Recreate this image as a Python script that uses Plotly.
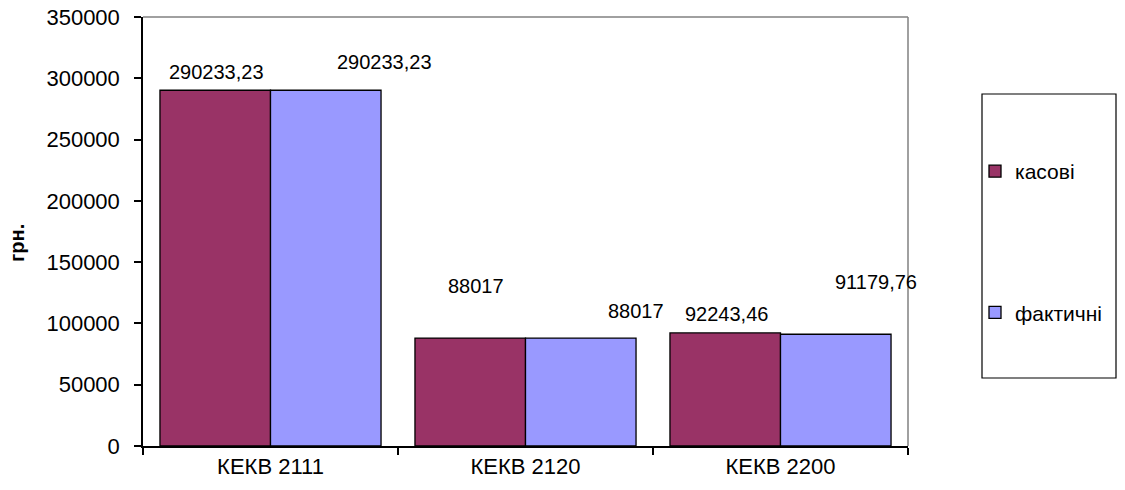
import plotly.graph_objects as go

categories = ["КЕКВ 2111", "КЕКВ 2120", "КЕКВ 2200"]
kasovi = [290233.23, 88017, 92243.46]
faktychni = [290233.23, 88017, 91179.76]
series_names = ["касові", "фактичні"]
y_ticks = [0, 50000, 100000, 150000, 200000, 250000, 300000, 350000]
y_title = "грн."

def fmt(v):
    if float(v).is_integer():
        return str(int(v))
    return f"{v:.2f}".replace(".", ",")

W, H = 1125, 490
L, R, T, B = 143, 908, 17, 446
FONT = "Liberation Sans, Arial, sans-serif"

fig = go.Figure()
fig.add_trace(go.Bar(x=categories, y=kasovi, name=series_names[0], legendgroup="a",
                     marker=dict(color="#993366", line=dict(color="black", width=1.3))))
fig.add_trace(go.Bar(x=categories, y=faktychni, name=series_names[1], legendgroup="b",
                     marker=dict(color="#9999FF", line=dict(color="black", width=1.3))))

# label offsets (px) relative to category centre / bar top
offs_k = [(-54.5, 18), (-50, 52), (-54, 19)]
offs_f = [(113.5, 28), (110, 27), (95, 52)]
ann = []
for i, c in enumerate(categories):
    for vals, offs in ((kasovi, offs_k), (faktychni, offs_f)):
        dx, dy = offs[i]
        ann.append(dict(x=c, y=vals[i], xref="x", yref="y", text=fmt(vals[i]),
                        showarrow=False, xshift=dx, yshift=dy, xanchor="center",
                        yanchor="middle", font=dict(family=FONT, size=20, color="black")))

pw = R - L
ph = B - T
def px(x):
    return (x - L) / pw
def py(y):
    return (B - y) / ph

ann.append(dict(x=px(17), y=py(243), xref="paper", yref="paper", text="<b>" + y_title + "</b>",
                textangle=-90, showarrow=False, xanchor="center", yanchor="middle",
                font=dict(family=FONT, size=20, color="black")))

shapes = [
    dict(type="line", xref="paper", yref="paper", x0=0, x1=1, y0=1, y1=1,
         line=dict(color="#808080", width=1.5)),
    dict(type="line", xref="paper", yref="paper", x0=1, x1=1, y0=0, y1=1,
         line=dict(color="#808080", width=1.5)),
    dict(type="rect", xref="paper", yref="paper", x0=px(982), x1=px(1116),
         y0=py(378), y1=py(94), line=dict(color="black", width=1.2)),
]

fig.update_layout(
    width=W, height=H,
    margin=dict(l=L, r=W - R, t=T, b=H - B, pad=0, autoexpand=False),
    paper_bgcolor="white", plot_bgcolor="white",
    barmode="group", bargap=0.133, bargroupgap=0,
    font=dict(family=FONT, size=20, color="black"),
    showlegend=True,
    legend=dict(x=px(975), y=py(151), xanchor="left", yanchor="top",
                bgcolor="rgba(0,0,0,0)", borderwidth=0, tracegroupgap=111,
                font=dict(family=FONT, size=21, color="black"),
                itemclick=False, itemdoubleclick=False),
    annotations=ann,
    shapes=shapes,
)
fig.update_xaxes(type="category", range=[-0.5, len(categories) - 0.5],
                 showline=True, linecolor="black", linewidth=1.5,
                 ticks="outside", tickson="boundaries", ticklen=7, tickcolor="black",
                 tickwidth=1.5, showgrid=False, tickfont=dict(size=22), zeroline=False,
                 automargin=False)
fig.update_yaxes(range=[0, 350000], tickvals=y_ticks, ticktext=[str(v) for v in y_ticks],
                 showline=True, linecolor="black", linewidth=1.5,
                 ticks="outside", ticklen=7, tickcolor="black", tickwidth=1.5,
                 showgrid=False, zeroline=False, tickfont=dict(size=22),
                 ticklabelstandoff=10, automargin=False)

fig.write_html("out.html")
